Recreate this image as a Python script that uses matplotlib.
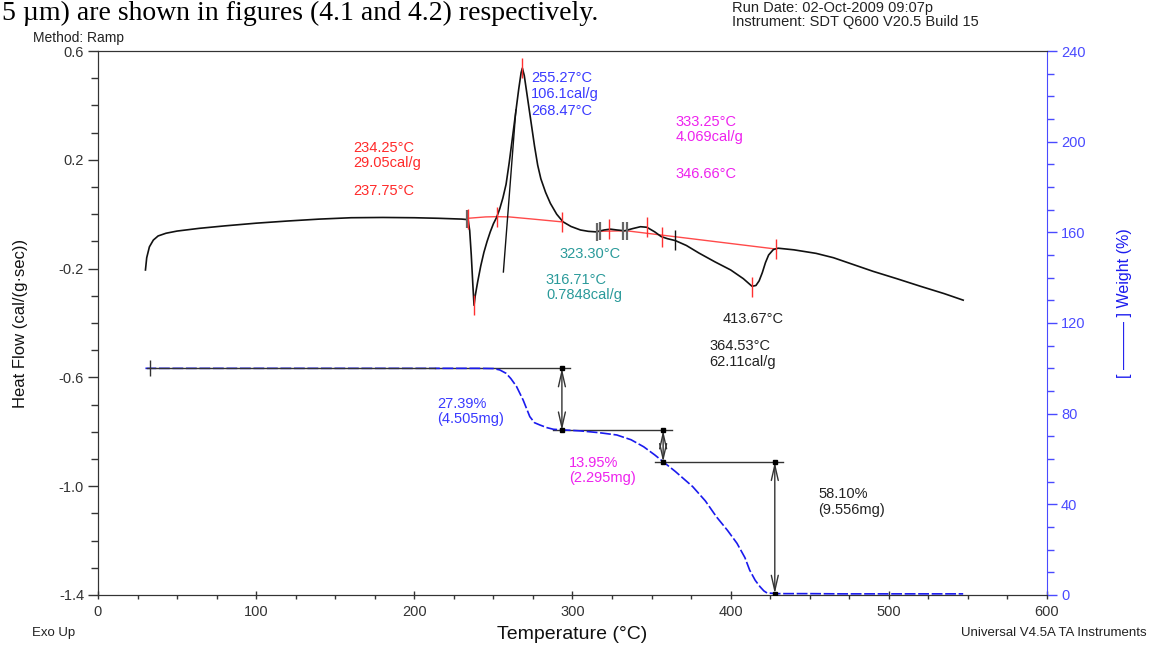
import matplotlib
matplotlib.use("Agg")
import matplotlib.pyplot as plt
from matplotlib.ticker import MultipleLocator

plt.rcParams['font.family'] = ['Liberation Sans', 'DejaVu Sans']

# ---------------- data ----------------
dsc_T = [30.0, 30.8, 32.5, 35, 38, 43, 50, 64, 80, 100, 120, 140, 160, 180, 200, 215, 230, 234,
         235, 236, 237, 237.75, 238.5, 240, 242, 244, 246, 248, 250, 252, 254, 256, 258, 260,
         262, 264, 266, 267.5, 268.3, 269.5, 271, 272.5, 274, 276, 278, 280, 283, 286, 290, 294,
         299, 305, 310, 315, 320, 324, 328, 333, 338, 343, 347, 352, 356, 360, 365, 372, 380,
         390, 400, 408, 413.5, 416, 418, 420, 422, 424, 427, 430, 440, 454, 465, 475, 490, 505,
         520, 535, 547]
dsc_HF = [-0.205, -0.16, -0.12, -0.095, -0.08, -0.07, -0.062, -0.052, -0.043, -0.033, -0.025,
          -0.018, -0.013, -0.012, -0.013, -0.015, -0.018, -0.02,
          -0.06, -0.15, -0.26, -0.335, -0.30, -0.25, -0.19, -0.14, -0.10, -0.065, -0.035, -0.012,
          0.02, 0.06, 0.11, 0.19, 0.28, 0.37, 0.46, 0.52, 0.537, 0.51, 0.45, 0.39, 0.33, 0.25,
          0.18, 0.13, 0.08, 0.04, 0.0, -0.028, -0.045, -0.058, -0.063, -0.065, -0.058, -0.055,
          -0.058, -0.061, -0.053, -0.046, -0.048, -0.065, -0.082, -0.09, -0.097, -0.115, -0.143,
          -0.175, -0.205, -0.237, -0.265, -0.262, -0.245, -0.215, -0.178, -0.15, -0.13, -0.125,
          -0.131, -0.144, -0.16, -0.18, -0.21, -0.237, -0.265, -0.292, -0.316]

tga_T = [30, 60, 100, 150, 213, 240, 250, 254, 258, 261, 264.6, 268.8, 273, 276, 279.4, 284, 288,
         295, 305, 317, 328, 337, 345, 352, 357.3, 365, 376, 384, 391, 398, 404, 409, 412, 415.5,
         418.5, 421, 423, 430, 450, 470, 500, 547]
tga_W = [100, 100, 100, 100, 100, 100, 99.9, 99.3, 97.8, 95.5, 92, 86, 78.7, 76, 75, 73.8, 73.1,
         72.8, 72.4, 71.6, 70.6, 68.5, 65.4, 61.8, 58.8, 54.5, 47.8, 41.5, 34.5, 28.5, 22.8, 16.5,
         11, 6.5, 3.7, 1.8, 0.9, 0.6, 0.6, 0.5, 0.5, 0.5]

# baselines (red)
base1_T = [234, 245, 252, 260, 275, 293]
base1_HF = [-0.015, -0.01, -0.009, -0.01, -0.018, -0.028]
base2_T = [315.5, 334.2]
base2_HF = [-0.063, -0.061]
base3_T = [334.2, 428.5]
base3_HF = [-0.061, -0.128]

# onset tangent of exotherm
tan_T = [256.3, 264.2]
tan_HF = [-0.2125, 0.383]

# analysis markers
red_mark_T = [234.0, 237.75, 252.0, 268.3, 293.3, 323.3, 346.9, 356.3, 413.67, 428.7]
red_mark_HF = [-0.018, -0.335, -0.012, 0.537, -0.028, -0.055, -0.047, -0.082, -0.267, -0.127]
gray_mark_T = [233.6, 315.2, 317.3, 332.0, 334.4]
gray_mark_HF = [-0.018, -0.064, -0.063, -0.061, -0.061]
blk_mark_T = [364.7]
blk_mark_HF = [-0.096]

# weight-loss steps
step_levels = [100.0, 72.61, 58.66, 0.56]
step_arrow_T = [293.3, 357.3, 427.9]
step_line_T0 = [30.8, 287.6, 352.0]
step_line_T1 = [298.4, 362.8, 433.2]

# annotation texts: (T, HF, text, color)
ann_texts = [
    (161.2, 0.243, "234.25°C", "#ff2a2a"),
    (161.2, 0.188, "29.05cal/g", "#ff2a2a"),
    (161.2, 0.085, "237.75°C", "#ff2a2a"),
    (273.8, 0.501, "255.27°C", "#3a3aff"),
    (273.8, 0.443, "106.1cal/g", "#3a3aff"),
    (273.8, 0.379, "268.47°C", "#3a3aff"),
    (365.4, 0.339, "333.25°C", "#ee22ee"),
    (365.4, 0.284, "4.069cal/g", "#ee22ee"),
    (365.4, 0.148, "346.66°C", "#ee22ee"),
    (291.5, -0.146, "323.30°C", "#2a9a9a"),
    (283.2, -0.242, "316.71°C", "#2a9a9a"),
    (283.2, -0.297, "0.7848cal/g", "#2a9a9a"),
    (395.1, -0.385, "413.67°C", "#222222"),
    (386.3, -0.485, "364.53°C", "#222222"),
    (386.3, -0.543, "62.11cal/g", "#222222"),
    (214.3, -0.698, "27.39%", "#3a3aff"),
    (214.3, -0.753, "(4.505mg)", "#3a3aff"),
    (297.8, -0.915, "13.95%", "#ee22ee"),
    (297.8, -0.970, "(2.295mg)", "#ee22ee"),
    (455.2, -1.029, "58.10%", "#222222"),
    (455.2, -1.087, "(9.556mg)", "#222222"),
]

x_ticks = [0, 100, 200, 300, 400, 500, 600]
hf_ticks = [0.6, 0.2, -0.2, -0.6, -1.0, -1.4]
w_ticks = [0, 40, 80, 120, 160, 200, 240]

# ---------------- figure ----------------
fig = plt.figure(figsize=(11.54, 6.45), dpi=100)
ax = fig.add_axes([0.08492, 0.07752, 0.82236, 0.84341])
ax2 = ax.twinx()

AXC = "#333333"
BLUE_AX = "#4a4aff"

ax.set_xlim(0, 600)
ax.set_ylim(-1.4, 0.6)
ax2.set_ylim(0, 240)

# DSC curve
ax.plot(dsc_T, dsc_HF, color="#111111", lw=1.2, zorder=4)
ax.plot(base1_T, base1_HF, color="#ff4a4a", lw=1.0, zorder=3)
ax.plot(base2_T, base2_HF, color="#ff4a4a", lw=1.0, zorder=3)
ax.plot(base3_T, base3_HF, color="#ff4a4a", lw=1.0, zorder=3)
ax.plot(tan_T, tan_HF, color="#111111", lw=1.0, zorder=4)
ax.plot(gray_mark_T, gray_mark_HF, ls="none", marker="|", ms=13, mew=1.6, color="#666666", zorder=5)
ax.plot(red_mark_T, red_mark_HF, ls="none", marker="|", ms=14, mew=1.0, color="#ff3030", zorder=6)
ax.plot(blk_mark_T, blk_mark_HF, ls="none", marker="|", ms=14, mew=1.0, color="#111111", zorder=6)

for (tx, ty, s, c) in ann_texts:
    ax.text(tx, ty, s, color=c, fontsize=10.5, ha="left", va="center", zorder=7)

# TGA curve
ax2.plot(tga_T, tga_W, color="#1a1aee", lw=1.2, dashes=(6.5, 1.6), zorder=3)

# weight-loss step lines
LC = "#333333"
ax2.plot([step_line_T0[0], 213], [step_levels[0], step_levels[0]], color=LC, lw=1.0, zorder=5)
ax2.plot([213, step_line_T1[0]], [step_levels[0], step_levels[0]], color=LC, lw=1.0, zorder=2)
ax2.plot([32.9], [step_levels[0]], marker="|", ms=12, mew=1.0, color=LC, zorder=5)
for i in range(1, 3):
    ax2.plot([step_line_T0[i], step_line_T1[i]], [step_levels[i], step_levels[i]],
             color=LC, lw=1.0, zorder=2)
for i in range(3):
    ax2.annotate("", xy=(step_arrow_T[i], step_levels[i + 1]),
                 xytext=(step_arrow_T[i], step_levels[i]),
                 arrowprops=dict(arrowstyle="<->,head_length=1.1,head_width=0.25",
                                 color=LC, lw=1.0, shrinkA=0, shrinkB=0), zorder=4)
    ax2.plot([step_arrow_T[i], step_arrow_T[i]], [step_levels[i], step_levels[i + 1]],
             ls="none", marker="s", ms=2.5, color="#000000", zorder=6)

# axes styling
ax.set_xticks(x_ticks)
ax.xaxis.set_minor_locator(MultipleLocator(25))
ax.set_yticks(hf_ticks)
ax.set_yticklabels([f"{v:.1f}" for v in hf_ticks])
ax.yaxis.set_minor_locator(MultipleLocator(0.1))
ax2.set_yticks(w_ticks)
ax2.yaxis.set_minor_locator(MultipleLocator(10))

ax.tick_params(axis="x", which="major", direction="inout", length=6, width=1, colors=AXC,
               labelsize=10.5, pad=4)
ax.tick_params(axis="x", which="minor", direction="out", length=3, width=1, colors=AXC)
ax.tick_params(axis="y", which="major", direction="out", length=7, width=1, colors=AXC,
               labelsize=10.5, pad=3)
ax.tick_params(axis="y", which="minor", direction="out", length=5, width=1, colors=AXC)
ax2.tick_params(axis="y", which="major", direction="out", length=7, width=1, colors=BLUE_AX,
                labelsize=10.5, pad=3)
ax2.tick_params(axis="y", which="minor", direction="out", length=5, width=1, colors=BLUE_AX)

for sp in ["left", "top", "bottom"]:
    ax.spines[sp].set_color(AXC)
    ax2.spines[sp].set_color(AXC)
ax2.spines["right"].set_color(BLUE_AX)
ax.spines["right"].set_visible(False)

ax.text(-0.082, 0.5, "Heat Flow (cal/(g·sec))", transform=ax.transAxes, rotation=90,
        ha="center", va="center", fontsize=12, color="#111111")
ax.text(0.5, -0.0735, "Temperature (°C)", transform=ax.transAxes, ha="center", va="center",
        fontsize=14, color="#111111")
ax2.text(1.082, 0.537, "[ ——— ] Weight (%)", transform=ax.transAxes, rotation=90,
         ha="center", va="center", fontsize=11.5, color="#1a1aee")

fig.text(32 / 1154, 1 - 633 / 645, "Exo Up", ha="left", va="center", fontsize=9.5, color="#222222")
fig.text(1147 / 1154, 1 - 633 / 645, "Universal V4.5A TA Instruments", ha="right", va="center",
         fontsize=9.5, color="#222222")

# header texts
fig.text(732 / 1154, 1 - 22 / 645, "Instrument: SDT Q600 V20.5 Build 15", ha="left", va="center",
         fontsize=10.5, color="#222222")
fig.text(732 / 1154, 1 - 8 / 645, "Run Date: 02-Oct-2009 09:07p", ha="left", va="center",
         fontsize=10.5, color="#222222")
fig.text(33 / 1154, 1 - 38 / 645, "Method: Ramp", ha="left", va="center",
         fontsize=10, color="#222222")
fig.text(2 / 1154, 1 - 1 / 645, "5 µm) are shown in figures (4.1 and 4.2) respectively.",
         ha="left", va="top", fontsize=20, family="Liberation Serif", color="#000000")

fig.savefig("out.png", dpi=100)
